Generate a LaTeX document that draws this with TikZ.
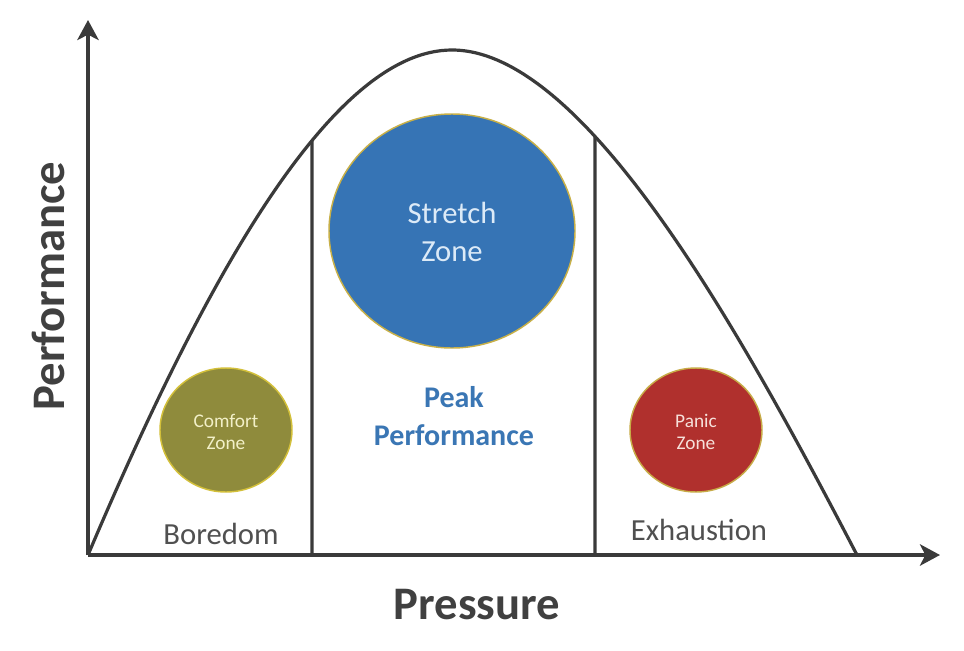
\documentclass[tikz,border=0pt]{standalone}
\usepackage{fontspec}
\setmainfont{Carlito}
\usetikzlibrary{arrows.meta,intersections}
\definecolor{axisgray}{HTML}{3A3A3A}
\definecolor{textgray}{HTML}{505050}
\definecolor{labelgray}{HTML}{404040}
\definecolor{stretchblue}{HTML}{3674B5}
\definecolor{peakblue}{HTML}{3A76B4}
\definecolor{olive}{HTML}{8F8B3C}
\definecolor{panicred}{HTML}{B0302D}
\definecolor{goldrim}{HTML}{C8B048}
\definecolor{stretchtext}{HTML}{DCEAF7}
\definecolor{comforttext}{HTML}{F2F0C8}
\definecolor{panictext}{HTML}{F6E0DA}
\tikzset{
  axisline/.style={draw=axisgray, line width=3pt, -{Stealth[length=15pt,width=16pt,inset=4pt]}},
  curveline/.style={draw=axisgray, line width=2.4pt},
  divider/.style={draw=axisgray, line width=2.4pt},
  zone/.style={draw=goldrim, line width=1.1pt},
  zonelabel/.style={align=center, font=\fontsize{14.5}{16}\selectfont},
  sidelabel/.style={text=textgray, font=\fontsize{23}{28}\selectfont},
  axislabel/.style={text=labelgray, font=\fontsize{35}{40}\selectfont\bfseries}
}
\begin{document}
\begin{tikzpicture}[x=0.75pt,y=-0.75pt]
\useasboundingbox[fill=white] (0,0) rectangle (964,650);
% axes
\coordinate (O) at (88,555);
\coordinate (Ytop) at (88,20);
\coordinate (Xend) at (940,555);
\coordinate (Peak) at (452,50);
\coordinate (End) at (857,555);
% curve
\draw[curveline, name path=curve] (O) .. controls (205,279) and (332,50) .. (Peak)
  .. controls (587,50) and (746,342) .. (End);
% dividers
\path[name path=lv] (312,555) -- (312,0);
\path[name path=rv] (595,555) -- (595,0);
\path[name intersections={of=curve and lv, by=Ltop}];
\path[name intersections={of=curve and rv, by=Rtop}];
\coordinate (Lbot) at (312,555);
\coordinate (Rbot) at (595,555);
\draw[divider] (Lbot) -- (Ltop);
\draw[divider] (Rbot) -- (Rtop);
\draw[axisline] (O) -- (Ytop);
\draw[axisline] (O) -- (Xend);
% zones
\draw[zone, fill=stretchblue] (452,231) ellipse [x radius=123, y radius=117];
\node[zonelabel, text=stretchtext, font=\fontsize{23}{28}\selectfont] (stretch) at (452,232) {Stretch\\Zone};
\draw[zone, fill=olive, draw=goldrim!80!yellow] (226,430) ellipse [x radius=66, y radius=62];
\node[zonelabel, text=comforttext] (comfort) at (226,432) {Comfort\\Zone};
\draw[zone, fill=panicred, draw=goldrim!90!brown] (696,430) ellipse [x radius=66, y radius=62];
\node[zonelabel, text=panictext] (panic) at (696,432) {Panic\\Zone};
% labels
\node[align=center, text=peakblue, font=\fontsize{22.5}{28.5}\selectfont\bfseries] (peakperf) at (454,416) {Peak\\Performance};
\node[sidelabel] (boredom) at (221,534) {Boredom};
\node[sidelabel] (exhaustion) at (699,530) {Exhaustion};
\node[axislabel] (pressure) at (477,605) {Pressure};
\node[axislabel, rotate=90] (performance) at (48,286) {Performance};
\end{tikzpicture}
\end{document}
